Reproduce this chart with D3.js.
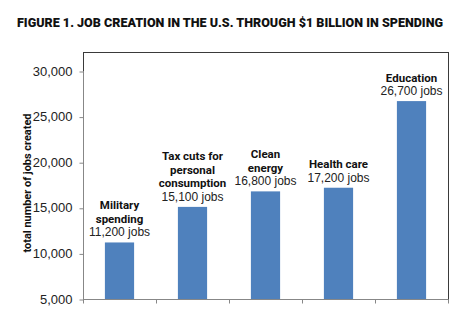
<!DOCTYPE html>
<html>
<head>
<meta charset="utf-8">
<script src="https://cdn.jsdelivr.net/npm/d3@7/dist/d3.min.js"></script>
<style>
  body { margin: 0; background: #fff; }
  svg { display: block; }
</style>
</head>
<body>
<svg id="chart" width="475" height="327"></svg>
<script>
//
// Data
//

var titleText = 'FIGURE 1. JOB CREATION IN THE U.S. THROUGH $1 BILLION IN SPENDING'
var categories = ['military', 'taxcuts', 'clean', 'health', 'education']
var categoryLines = [
  ['Military', 'spending'],
  ['Tax cuts for', 'personal', 'consumption'],
  ['Clean', 'energy'],
  ['Health care'],
  ['Education']
]
var jobs = [11200, 15100, 16800, 17200, 26700]
var yTicks = [5000, 10000, 15000, 20000, 25000, 30000]
var yLabel = 'total number of jobs created'

//
// Configuration
//

var colorBar = '#4f81bd'
var colorFrame = '#3a3a3a'
var colorAxis = '#878787'
var heavy = 'Roboto, "Liberation Sans", sans-serif'
var regular = '"Liberation Sans", Arial, sans-serif'
var margin = { top: 52, right: 27, bottom: 28, left: 83 }

//
// Chart
//

var svg = d3.select('#chart')
var width = +svg.attr('width')
var height = +svg.attr('height')
var plotW = width - margin.left - margin.right
var plotH = height - margin.top - margin.bottom

var x = d3.scaleBand()
  .domain(categories)
  .range([0, plotW])
  .paddingInner(0.6)
  .paddingOuter(0.3)

var y = d3.scaleLinear()
  .domain([5000, 30000])
  .range([plotH, 19])

svg.append('text')
  .attr('x', 17)
  .attr('y', 27)
  .attr('textLength', 426)
  .attr('lengthAdjust', 'spacingAndGlyphs')
  .style('font-family', heavy)
  .style('font-weight', '900')
  .style('font-size', '12.5px')
  .attr('fill', '#111')
  .text(titleText)

var g = svg.append('g')
  .attr('transform', 'translate(' + margin.left + ',' + margin.top + ')')

// plot frame
g.append('rect')
  .attr('x', 0.5)
  .attr('y', 0.5)
  .attr('width', plotW)
  .attr('height', plotH)
  .attr('fill', 'none')
  .attr('stroke', colorFrame)

g.selectAll('rect.bar')
  .data(jobs)
  .enter().append('rect')
  .attr('class', 'bar')
  .attr('x', function(d, i) { return x(categories[i]) })
  .attr('width', x.bandwidth())
  .attr('y', function(d) { return y(d) })
  .attr('height', function(d) { return plotH - y(d) })
  .attr('fill', colorBar)

// y axis
var yAxis = g.append('g')
  .attr('transform', 'translate(0.5,0)')
  .call(d3.axisLeft(y).tickValues(yTicks).tickSize(4).tickPadding(7).tickFormat(d3.format(',')))
yAxis.select('.domain').attr('stroke', colorAxis).attr('d', 'M0,' + y(30000) + 'V' + (plotH + 0.5))
yAxis.selectAll('line').attr('stroke', colorAxis).attr('transform', 'translate(0,0.5)')
yAxis.selectAll('text')
  .style('font-family', regular)
  .style('font-size', '13px')
  .attr('fill', '#222')

// x axis with ticks at category boundaries
var bounds = d3.range(categories.length + 1).map(function(i) { return i * x.step() })
var xAxis = g.append('g').attr('transform', 'translate(0,' + (plotH + 0.5) + ')')
xAxis.append('line')
  .attr('x1', 0).attr('x2', plotW + 0.5)
  .attr('stroke', colorAxis)
xAxis.selectAll('line.tick')
  .data(bounds)
  .enter().append('line')
  .attr('class', 'tick')
  .attr('x1', function(d) { return Math.round(d) + 0.5 })
  .attr('x2', function(d) { return Math.round(d) + 0.5 })
  .attr('y1', 0).attr('y2', 4)
  .attr('stroke', colorAxis)

// value and category labels above each bar
var labels = g.selectAll('g.label')
  .data(jobs)
  .enter().append('g')
  .attr('class', 'label')
  .attr('transform', function(d, i) {
    return 'translate(' + (x(categories[i]) + x.bandwidth() / 2) + ',' + (y(d) - 6) + ')'
  })

labels.append('text')
  .attr('text-anchor', 'middle')
  .style('font-family', regular)
  .style('font-size', '12px')
  .attr('fill', '#222')
  .text(function(d) { return d3.format(',')(d) + ' jobs' })

labels.each(function(d, i) {
  var lines = categoryLines[i]
  d3.select(this).selectAll('text.cat')
    .data(lines)
    .enter().append('text')
    .attr('class', 'cat')
    .attr('text-anchor', 'middle')
    .attr('y', function(t, j) { return -13.5 * (lines.length - j) })
    .style('font-family', heavy)
    .style('font-weight', 'bold')
    .style('font-size', '11.5px')
    .attr('fill', '#111')
    .text(function(t) { return t })
})

svg.append('text')
  .attr('transform', 'translate(31,183) rotate(-90)')
  .attr('text-anchor', 'middle')
  .attr('textLength', 139)
  .attr('lengthAdjust', 'spacingAndGlyphs')
  .style('font-family', heavy)
  .style('font-weight', 'bold')
  .style('font-size', '11.5px')
  .attr('fill', '#111')
  .text(yLabel)
</script>
</body>
</html>
